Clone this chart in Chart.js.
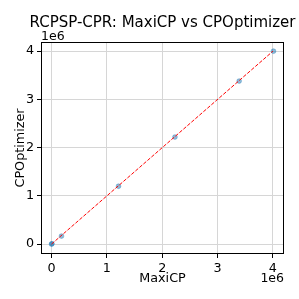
<!DOCTYPE html>
<html>
<head>
<meta charset="utf-8">
<script src="https://cdn.jsdelivr.net/npm/chart.js@4"></script>
<style>
  html, body { margin: 0; padding: 0; background: #fff; }
  #wrap { width: 299px; height: 299px; }
</style>
</head>
<body>
<div id="wrap"><canvas id="chart" width="299" height="299"></canvas></div>
<script>
/* global document, Chart */

// Objective values (raw units, axes scaled by 1e6)
let maxicpValues = [0, 8000, 180000, 1210000, 2230000, 3390000, 4010000];
let cpoValues = [0, 8000, 166000, 1200000, 2220000, 3380000, 4000000];
let diagonal = [0, 4000000];
let tickValues = [0, 1000000, 2000000, 3000000, 4000000];
let tickLabels = ['0', '1', '2', '3', '4'];

let titleText = 'RCPSP-CPR: MaxiCP vs CPOptimizer';
let fontFamily = '"DejaVu Sans", sans-serif';

let points = maxicpValues.map((x, i) => ({ x: x, y: cpoValues[i] }));
let linePoints = diagonal.map(v => ({ x: v, y: v }));

// Title, offset labels and frame, matplotlib style
let decorations = {
    id: 'decorations',
    afterDraw(chart) {
        let ctx = chart.ctx;
        let area = chart.chartArea;
        ctx.save();
        ctx.strokeStyle = '#000';
        ctx.lineWidth = 1;
        ctx.strokeRect(Math.round(area.left) + 0.5, Math.round(area.top) + 0.5,
            Math.round(area.right - area.left) - 1, Math.round(area.bottom - area.top) - 1);

        ctx.fillStyle = '#000';
        ctx.font = '15px ' + fontFamily;
        ctx.textAlign = 'center';
        ctx.textBaseline = 'alphabetic';
        ctx.fillText(titleText, (area.left + area.right) / 2, 27);

        ctx.font = '12.5px ' + fontFamily;
        ctx.textAlign = 'left';
        ctx.fillText('1e6', area.left, 40);
        ctx.textAlign = 'right';
        ctx.fillText('1e6', area.right, 282);
        ctx.restore();
    }
};

function fixedTicks(scale) {
    scale.ticks = tickValues.map(v => ({ value: v }));
}

new Chart(document.getElementById('chart'), {
    type: 'scatter',
    data: {
        datasets: [
            {
                type: 'line',
                data: linePoints,
                borderColor: '#ff0000',
                borderWidth: 1,
                borderDash: [3.7, 1.6],
                pointRadius: 0,
                fill: false
            },
            {
                data: points,
                backgroundColor: 'rgba(31,119,180,0.5)',
                borderColor: 'rgba(31,119,180,0.35)',
                borderWidth: 1,
                pointRadius: 2.4
            }
        ]
    },
    options: {
        responsive: false,
        animation: false,
        layout: { padding: { top: 42, right: 15, left: 0, bottom: 0 } },
        plugins: {
            legend: { display: false },
            tooltip: { enabled: false },
            title: { display: false }
        },
        scales: {
            x: {
                type: 'linear',
                min: -190000,
                max: 4200000,
                afterBuildTicks: fixedTicks,
                afterFit(scale) { scale.height = 45; },
                grid: { color: '#d6d6d6', lineWidth: 1, tickLength: 4, tickColor: '#000' },
                border: { display: false },
                ticks: {
                    color: '#000',
                    font: { family: fontFamily, size: 12.75 },
                    padding: 3,
                    maxRotation: 0,
                    callback: (v, i) => tickLabels[i]
                },
                title: {
                    display: true,
                    text: 'MaxiCP',
                    color: '#000',
                    font: { family: fontFamily, size: 12.75 },
                    padding: { top: 1, bottom: 13 }
                }
            },
            y: {
                type: 'linear',
                min: -205000,
                max: 4190000,
                afterBuildTicks: fixedTicks,
                afterFit(scale) { scale.width = 41; },
                grid: { color: '#d6d6d6', lineWidth: 1, tickLength: 4, tickColor: '#000' },
                border: { display: false },
                ticks: {
                    color: '#000',
                    font: { family: fontFamily, size: 12.75 },
                    padding: 3,
                    callback: (v, i) => tickLabels[i]
                },
                title: {
                    display: true,
                    text: 'CPOptimizer',
                    color: '#000',
                    font: { family: fontFamily, size: 12.75 },
                    padding: { top: 13, bottom: 0 }
                }
            }
        }
    },
    plugins: [decorations]
});
</script>
</body>
</html>
